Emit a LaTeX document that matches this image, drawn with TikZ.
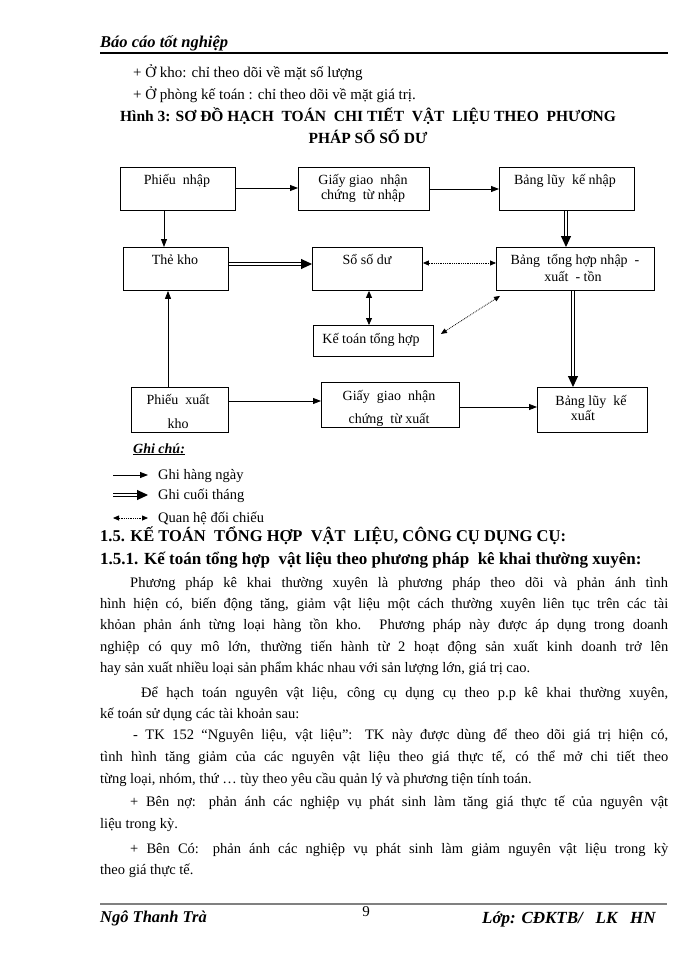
\documentclass[tikz,border=0pt]{standalone}
\usepackage{fontspec}
\setmainfont{Liberation Serif}
\usetikzlibrary{arrows.meta}
\begin{document}
\begin{tikzpicture}[x=1pt,y=-1pt,
  txt/.style={anchor=base west, inner sep=0, font=\fontsize{14.5}{16}\selectfont},
  ctxt/.style={anchor=base, inner sep=0, font=\fontsize{14.5}{16}\selectfont},
  btxt/.style={anchor=base, inner sep=0, font=\fontsize{14}{15}\selectfont},
  box/.style={draw, line width=0.9pt, inner sep=0, anchor=north west},
  daily/.style={line width=0.8pt, -{Triangle[length=8pt,width=6pt]}},
  monthly/.style={line width=1pt, double, double distance=1.2pt, -{Triangle[length=11pt,width=10pt]}},
  compare/.style={densely dotted, line width=0.8pt, {Triangle[length=6pt,width=5pt]}-{Triangle[length=6pt,width=5pt]}},
  bothsolid/.style={line width=0.8pt, {Triangle[length=7pt,width=6pt]}-{Triangle[length=7pt,width=6pt]}}]
\useasboundingbox (0,0) rectangle (700,960);
\fill[white] (0,0) rectangle (700,960);
% header
\node[anchor=base west, inner sep=0, font=\fontsize{16.5}{18}\selectfont\bfseries\itshape] (hdr) at (100,48) {Báo cáo tốt nghiệp};
\draw[line width=1.4pt] (100,53) -- (668,53);
\node[txt, font=\fontsize{15}{16}\selectfont] (l1) at (133,78) {+ Ở kho: chỉ theo dõi về mặt số lượng};
\node[txt, font=\fontsize{15}{16}\selectfont] (l2) at (133,100) {+ Ở phòng kế toán : chỉ theo dõi về mặt giá trị.};
\node[ctxt, font=\fontsize{15.5}{16}\selectfont\bfseries] (t1) at (368,122) {Hình 3: SƠ ĐỒ HẠCH\ \ TOÁN\ \ CHI TIẾT\ \ VẬT\ \ LIỆU THEO\ \ PHƯƠNG};
\node[ctxt, font=\fontsize{15.5}{16}\selectfont\bfseries] (t2) at (368,144) {PHÁP SỔ SỐ DƯ};
% boxes
\node[box, minimum width=115, minimum height=43] (pn) at (120,167) {};
\node[box, minimum width=131, minimum height=43] (gn) at (298,167) {};
\node[box, minimum width=135, minimum height=43] (bn) at (499,167) {};
\node[box, minimum width=105, minimum height=43] (tk) at (123,247) {};
\node[box, minimum width=110, minimum height=43] (sd) at (312,247) {};
\node[box, minimum width=158, minimum height=43] (bt) at (496,247) {};
\node[box, minimum width=120, minimum height=31] (kt) at (313,325) {};
\node[box, minimum width=97, minimum height=45] (px) at (131,387) {};
\node[box, minimum width=138, minimum height=45] (gx) at (321,382) {};
\node[box, minimum width=110, minimum height=45] (bx) at (537,387) {};
% box texts
\node[btxt] (pnt) at (177,185) {Phiếu\ \ nhập};
\node[btxt] (gnt1) at (363,185) {Giấy giao\ \ nhận};
\node[btxt] (gnt2) at (363,200) {chứng\ \ từ nhập};
\node[btxt] (bnt) at (565,185) {Bảng lũy\ \ kế nhập};
\node[btxt] (tkt) at (175,264) {Thẻ kho};
\node[btxt] (sdt) at (367,264) {Sổ số dư};
\node[btxt] (btt1) at (575,264) {Bảng\ \ tổng hợp nhập\ \ -};
\node[btxt] (btt2) at (573,281) {xuất\ \ - tồn};
\node[btxt] (ktt) at (371,343) {Kế toán tổng hợp};
\node[btxt] (pxt1) at (178,404) {Phiếu\ \ xuất};
\node[btxt] (pxt2) at (178,428) {kho};
\node[btxt] (gxt1) at (389,400) {Giấy\ \ giao\ \ nhận};
\node[btxt] (gxt2) at (389,423) {chứng\ \ từ xuất};
\node[btxt] (bxt1) at (591,405) {Bảng lũy\ \ kế};
\node[btxt] (bxt2) at (583,420) {xuất};
% connectors
\draw[daily] (pn.east |- 0,188) -- (gn.west |- 0,188);
\draw[daily] (gn.east |- 0,189) -- (bn.west |- 0,189);
\draw[daily] (pn.south -| 164,0) -- (tk.north -| 164,0);
\draw[monthly] (bn.south -| 566,0) -- (bt.north -| 566,0);
\draw[monthly] (tk.east |- 0,264) -- (sd.west |- 0,264);
\draw[compare] (sd.east |- 0,263) -- (bt.west |- 0,263);
\draw[bothsolid] (sd.south -| 369,0) -- (kt.north -| 369,0);
\draw[compare] ([xshift=4pt,yshift=-5pt]bt.south west) -- ([xshift=7pt,yshift=7pt]kt.east);
\draw[monthly] (bt.south -| 573,0) -- (bx.north -| 573,0);
\draw[daily] (px.north -| 168,0) -- (tk.south -| 168,0);
\draw[daily] (px.east |- 0,401) -- (gx.west |- 0,401);
\draw[daily] (gx.east |- 0,407) -- (bx.west |- 0,407);
% legend
\node[anchor=base west, inner sep=0, font=\fontsize{14}{16}\selectfont\bfseries\itshape] (gc) at (133,453) {\underline{Ghi chú:}};
\coordinate (a1) at (113,475); \coordinate (a2) at (148,475);
\coordinate (b1) at (113,495); \coordinate (b2) at (148,495);
\coordinate (c1) at (113,518); \coordinate (c2) at (148,518);
\draw[daily] (a1) -- (a2);
\draw[monthly] (b1) -- (b2);
\draw[compare] (c1) -- (c2);
\node[txt, font=\fontsize{14.5}{16}\selectfont] (g1) at (158,479) {Ghi hàng ngày};
\node[txt, font=\fontsize{14.5}{16}\selectfont] (g2) at (158,499) {Ghi cuối tháng};
\node[txt, font=\fontsize{14.5}{16}\selectfont] (g3) at (158,522) {Quan hệ đối chiếu};
% headings
\node[txt, font=\fontsize{16.5}{18}\selectfont\bfseries] (h1) at (100,541) {1.5. KẾ TOÁN\ \ TỔNG HỢP\ \ VẬT\ \ LIỆU, CÔNG CỤ DỤNG CỤ:};
\node[txt, font=\fontsize{17}{18}\selectfont\bfseries] (h2) at (100,564) {1.5.1. Kế toán tổng hợp\ \ vật liệu theo phương pháp\ \ kê khai thường xuyên:};
% body
\node[txt] (p1) at (130,587) {\makebox[538pt][s]{Phương pháp kê khai thường xuyên là phương pháp theo dõi và phản ánh tình}};
\node[txt] (p2) at (100,608) {\makebox[568pt][s]{hình hiện có, biến động tăng, giảm vật liệu một cách thường xuyên liên tục trên các tài}};
\node[txt] (p3) at (100,629) {\makebox[568pt][s]{khỏan phản ánh từng loại hàng tồn kho. Phương pháp này được áp dụng trong doanh}};
\node[txt] (p4) at (100,651) {\makebox[568pt][s]{nghiệp có quy mô lớn, thường tiến hành từ 2 hoạt động sản xuất kinh doanh trở lên}};
\node[txt] (p5) at (100,672) {hay sản xuất nhiều loại sản phẩm khác nhau với sản lượng lớn, giá trị cao.};
\node[txt] (p6) at (141,697) {\makebox[527pt][s]{Để hạch toán nguyên vật liệu, công cụ dụng cụ theo p.p kê khai thường xuyên,}};
\node[txt] (p7) at (100,718) {kế toán sử dụng các tài khoản sau:};
\node[txt] (p8) at (133,739) {\makebox[535pt][s]{- TK 152 “Nguyên liệu, vật liệu”: TK này được dùng để theo dõi giá trị hiện có,}};
\node[txt] (p9) at (100,761) {\makebox[568pt][s]{tình hình tăng giảm của các nguyên vật liệu theo giá thực tế, có thể mở chi tiết theo}};
\node[txt] (p10) at (100,783) {từng loại, nhóm, thứ … tùy theo yêu cầu quản lý và phương tiện tính toán.};
\node[txt] (p11) at (130,806) {\makebox[538pt][s]{+ Bên nợ: phản ánh các nghiệp vụ phát sinh làm tăng giá thực tế của nguyên vật}};
\node[txt] (p12) at (100,828) {liệu trong kỳ.};
\node[txt] (p13) at (130,853) {\makebox[538pt][s]{+ Bên Có: phản ánh các nghiệp vụ phát sinh làm giảm nguyên vật liệu trong kỳ}};
\node[txt] (p14) at (100,874) {theo giá thực tế.};
% footer
\draw[line width=1.8pt, black!50] (100,904) -- (667,904);
\node[anchor=base west, inner sep=0, font=\fontsize{16.5}{18}\selectfont\bfseries\itshape] (f1) at (100,922) {Ngô Thanh Trà};
\node[anchor=base, inner sep=0, font=\fontsize{15}{16}\selectfont] (f2) at (366,916) {9};
\node[anchor=base west, inner sep=0, font=\fontsize{17}{18}\selectfont\bfseries\itshape] (f3) at (482,923) {Lớp: CĐKTB/\ \ \ LK\ \ \ HN};
\end{tikzpicture}
\end{document}
